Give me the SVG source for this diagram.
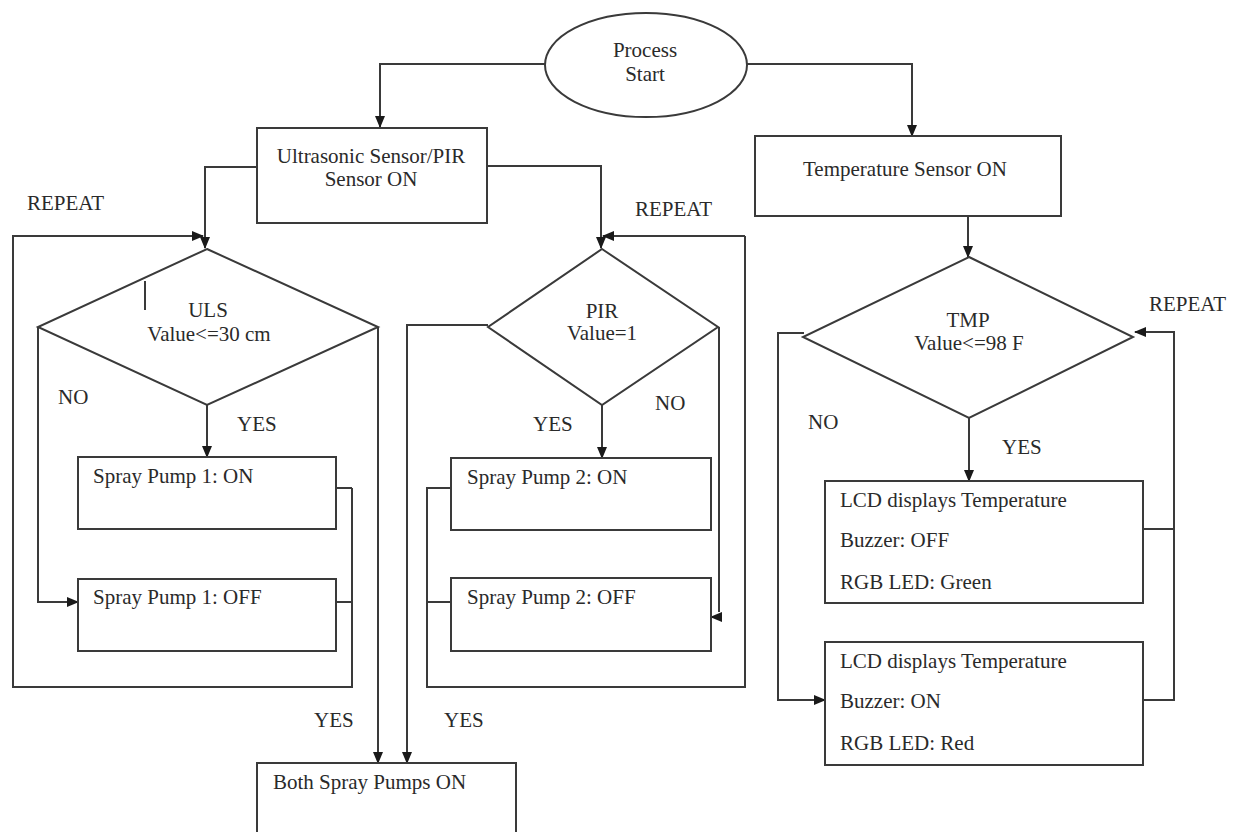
<svg xmlns="http://www.w3.org/2000/svg" width="1238" height="832" viewBox="0 0 1238 832">
<style>
  .shape { fill: #ffffff; stroke: #3a3a3a; stroke-width: 2; }
  .conn { fill: none; stroke: #3a3a3a; stroke-width: 2; }
  .arrow { fill: none; stroke: #3a3a3a; stroke-width: 2; marker-end: url(#ah); }
  .c { text-anchor: middle; }
</style>
<defs>
  <marker id="ah" markerUnits="userSpaceOnUse" markerWidth="12" markerHeight="12" viewBox="0 0 12 12" refX="11" refY="6" orient="auto">
    <path d="M0,1 L12,6 L0,11 Z" fill="#1a1a1a"/>
  </marker>
</defs>
<rect width="1238" height="832" fill="#ffffff"/>

<g id="connectors">
  <path class="arrow" d="M545,64 H380 V127"/>
  <path class="arrow" d="M747,64 H912 V136"/>
  <path class="arrow" d="M257,167 H205 V248"/>
  <path class="arrow" d="M487,166 H601 V248"/>
  <path class="arrow" d="M352,488 V687 H13 V236 H203"/>
  <path class="conn" d="M336,602 H352"/>
  <path class="conn" d="M336,488 H352"/>
  <path class="arrow" d="M38,327 V602 H78"/>
  <path class="arrow" d="M207,405 V457"/>
  <path class="arrow" d="M378,327 V763"/>
  <path class="arrow" d="M488,325 H407 V763"/>
  <path class="arrow" d="M602,405 V458"/>
  <path class="conn" d="M719,327 V612"/>
  <path class="arrow" d="M721,617 H711"/>
  <path class="conn" d="M451,488 H427 V687 H745 V236"/>
  <path class="conn" d="M451,602 H427"/>
  <path class="arrow" d="M745,236 H603"/>
  <path class="arrow" d="M968,216 V257"/>
  <path class="arrow" d="M969,418 V481"/>
  <path class="arrow" d="M804,333 H778 V700 H825"/>
  <path class="conn" d="M1143,529 H1174"/>
  <path class="arrow" d="M1143,700 H1174 V332 H1135"/>
</g>

<g font-family="'Liberation Serif', 'Times New Roman', Times, 'DejaVu Serif', serif" font-size="21" fill="#2a2a2a">
<g id="start">
  <ellipse class="shape" cx="646" cy="65" rx="101" ry="52"/>
  <text class="c" x="645" y="57">Process</text>
  <text class="c" x="645" y="81">Start</text>
</g>

<g id="ultrasonic">
  <rect class="shape" x="257" y="128" width="230" height="95"/>
  <text class="c" x="371" y="163">Ultrasonic Sensor/PIR</text>
  <text class="c" x="371" y="186">Sensor ON</text>
</g>

<g id="temperature">
  <rect class="shape" x="755" y="136" width="306" height="80"/>
  <text x="803" y="176">Temperature Sensor ON</text>
</g>

<g id="uls">
  <polygon class="shape" points="207,249 378,327 207,405 38,327"/>
  <line class="conn" x1="145" y1="281" x2="145" y2="310"/>
  <text class="c" x="208" y="317">ULS</text>
  <text class="c" x="209" y="341">Value&lt;=30 cm</text>
</g>

<g id="pir">
  <polygon class="shape" points="602,249 718,327 602,405 488,327"/>
  <text class="c" x="602" y="318">PIR</text>
  <text class="c" x="602" y="340">Value=1</text>
</g>

<g id="tmp">
  <polygon class="shape" points="969,257 1133,337 969,418 803,337"/>
  <text class="c" x="968" y="327">TMP</text>
  <text class="c" x="969" y="350">Value&lt;=98 F</text>
</g>

<g id="pump1on">
  <rect class="shape" x="78" y="457" width="258" height="72"/>
  <text x="93" y="483">Spray Pump 1: ON</text>
</g>
<g id="pump1off">
  <rect class="shape" x="78" y="579" width="258" height="72"/>
  <text x="93" y="604">Spray Pump 1: OFF</text>
</g>
<g id="pump2on">
  <rect class="shape" x="451" y="458" width="260" height="72"/>
  <text x="467" y="484">Spray Pump 2: ON</text>
</g>
<g id="pump2off">
  <rect class="shape" x="451" y="578" width="260" height="73"/>
  <text x="467" y="604">Spray Pump 2: OFF</text>
</g>

<g id="both">
  <rect class="shape" x="257" y="763" width="259" height="80"/>
  <text x="273" y="789">Both Spray Pumps ON</text>
</g>

<g id="lcd1">
  <rect class="shape" x="825" y="481" width="318" height="122"/>
  <text x="840" y="507">LCD displays Temperature</text>
  <text x="840" y="547">Buzzer: OFF</text>
  <text x="840" y="589">RGB LED: Green</text>
</g>
<g id="lcd2">
  <rect class="shape" x="825" y="642" width="318" height="123"/>
  <text x="840" y="668">LCD displays Temperature</text>
  <text x="840" y="708">Buzzer: ON</text>
  <text x="840" y="750">RGB LED: Red</text>
</g>

<g id="labels">
  <text x="27" y="210">REPEAT</text>
  <text x="635" y="216">REPEAT</text>
  <text x="1149" y="311">REPEAT</text>
  <text x="58" y="404">NO</text>
  <text x="237" y="431">YES</text>
  <text x="533" y="431">YES</text>
  <text x="655" y="410">NO</text>
  <text x="808" y="429">NO</text>
  <text x="1002" y="454">YES</text>
  <text x="314" y="727">YES</text>
  <text x="444" y="727">YES</text>
</g>
</g>
</svg>
